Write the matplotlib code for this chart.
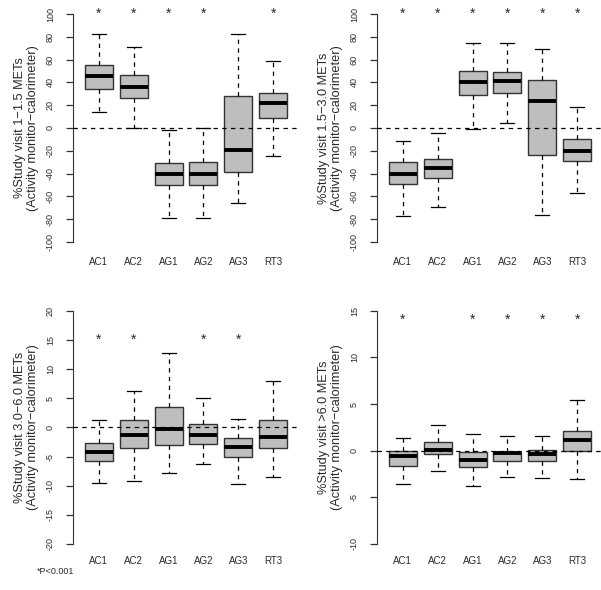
import matplotlib
matplotlib.use("Agg")
import matplotlib.pyplot as plt

plt.rcParams['font.family'] = ['Liberation Sans', 'DejaVu Sans']
plt.rcParams['axes.unicode_minus'] = False

groups = ["AC1", "AC2", "AG1", "AG2", "AG3", "RT3"]

# panel 1: 1-1.5 METs
p1_lo = [14, 0, -79, -79, -66, -25]
p1_q1 = [34, 26, -50, -50, -39, 9]
p1_med = [46, 36, -40, -40, -19, 22]
p1_q3 = [55, 46.5, -31, -30, 28, 30.5]
p1_hi = [82.5, 71.5, -1.5, 0, 82.5, 58.5]
p1_stars = [1, 1, 1, 1, 0, 1]

# panel 2: 1.5-3.0 METs
p2_lo = [-77, -69.5, -0.5, 4.5, -76, -57.5]
p2_q1 = [-49, -43.5, 29, 31, -23.5, -29]
p2_med = [-40, -35, 40, 41.5, 24, -20]
p2_q3 = [-29.5, -27.5, 50, 49, 42.5, -10]
p2_hi = [-11, -4, 74.5, 74.5, 69.5, 18.5]
p2_stars = [1, 1, 1, 1, 1, 1]

# panel 3: 3.0-6.0 METs
p3_lo = [-9.5, -9.2, -7.9, -6.3, -9.8, -8.45]
p3_q1 = [-5.75, -3.6, -3.1, -2.9, -5.0, -3.6]
p3_med = [-4.2, -1.3, -0.35, -1.3, -3.3, -1.7]
p3_q3 = [-2.7, 1.25, 3.45, 0.55, -1.85, 1.25]
p3_hi = [1.25, 6.3, 12.7, 5.05, 1.4, 8.0]
p3_stars = [1, 1, 0, 1, 1, 0]

# panel 4: >6.0 METs
p4_lo = [-3.6, -2.2, -3.8, -2.85, -2.95, -3.05]
p4_q1 = [-1.6, -0.4, -1.75, -1.15, -1.15, 0.0]
p4_med = [-0.6, 0.05, -0.95, -0.3, -0.4, 1.1]
p4_q3 = [0.0, 0.9, -0.1, -0.1, 0.05, 2.15]
p4_hi = [1.35, 2.7, 1.8, 1.6, 1.6, 5.4]
p4_stars = [1, 0, 1, 1, 1, 1]

ylabels = ["%Study visit 1\u22121.5 METs",
	"%Study visit 1.5\u22123.0 METs",
	"%Study visit 3.0\u22126.0 METs",
	"%Study visit >6.0 METs"]
ylabel2 = "(Activity monitor\u2212calorimeter)"

TXT = "#2a2a2a"
DASH = (0, (3.5, 3.5))


def draw_panel(ax, lo, q1, med, q3, hi, stars, star_y, yticks, ylabel, xpad):
	pos = list(range(1, len(groups) + 1))
	stats = [dict(whislo=a, q1=b, med=c, q3=d, whishi=e, fliers=[])
		for a, b, c, d, e in zip(lo, q1, med, q3, hi)]
	ax.bxp(stats, positions=pos, widths=0.8, capwidths=0.4,
		patch_artist=True, showfliers=False,
		boxprops=dict(facecolor="#bebebe", edgecolor="#333333", linewidth=1.0),
		medianprops=dict(color="black", linewidth=2.8, solid_capstyle="butt"),
		whiskerprops=dict(color="black", linewidth=0.9, linestyle=DASH),
		capprops=dict(color="black", linewidth=0.9))
	ax.axhline(0, color="black", lw=0.9, ls=DASH, zorder=5)
	for p, s in zip(pos, stars):
		if s:
			ax.text(p, star_y, "*", ha="center", va="center", fontsize=10,
				color=TXT)
	span = yticks[-1] - yticks[0]
	ax.set_xlim(0.26, 6.74)
	ax.set_ylim(yticks[0] - 0.04 * span, yticks[-1] + 0.04 * span)
	for side in ["top", "right", "bottom"]:
		ax.spines[side].set_visible(False)
	ax.spines["left"].set_bounds(yticks[0], yticks[-1])
	ax.spines["left"].set_color("#333333")
	ax.set_yticks(yticks)
	ax.set_yticklabels([str(t) for t in yticks], rotation=90, va="center")
	ax.tick_params(axis="y", length=5, width=0.9, colors="#333333",
		labelsize=6.5, pad=8, labelcolor=TXT)
	ax.set_xticks(pos)
	ax.set_xticklabels(groups)
	ax.tick_params(axis="x", length=0, labelsize=7, pad=xpad, labelcolor=TXT)
	ax.set_ylabel(ylabel + "\n" + ylabel2, fontsize=9.2, color=TXT,
		linespacing=1.15, labelpad=5)


fig = plt.figure(figsize=(6.01, 5.90), dpi=100)
W, H = 601.0, 590.0
top_box = [(73 / W, 1 - 251 / H, 226 / W, 246 / H),
	(377 / W, 1 - 251 / H, 226 / W, 246 / H)]
bot_box = [(73 / W, 1 - 553.3 / H, 226 / W, 251.9 / H),
	(377 / W, 1 - 553.3 / H, 226 / W, 251.9 / H)]

ax1 = fig.add_axes(top_box[0])
ax2 = fig.add_axes(top_box[1])
ax3 = fig.add_axes(bot_box[0])
ax4 = fig.add_axes(bot_box[1])

draw_panel(ax1, p1_lo, p1_q1, p1_med, p1_q3, p1_hi, p1_stars, 100,
	list(range(-100, 101, 20)), ylabels[0], 4.5)
draw_panel(ax2, p2_lo, p2_q1, p2_med, p2_q3, p2_hi, p2_stars, 100,
	list(range(-100, 101, 20)), ylabels[1], 4.5)
draw_panel(ax3, p3_lo, p3_q1, p3_med, p3_q3, p3_hi, p3_stars, 15,
	list(range(-20, 21, 5)), ylabels[2], 2)
draw_panel(ax4, p4_lo, p4_q1, p4_med, p4_q3, p4_hi, p4_stars, 14,
	list(range(-10, 16, 5)), ylabels[3], 2)

fig.text(37 / W, 1 - 572 / H, "*P<0.001", fontsize=6.5, color=TXT,
	ha="left", va="center")

fig.savefig("out.png", dpi=100, facecolor="white")
